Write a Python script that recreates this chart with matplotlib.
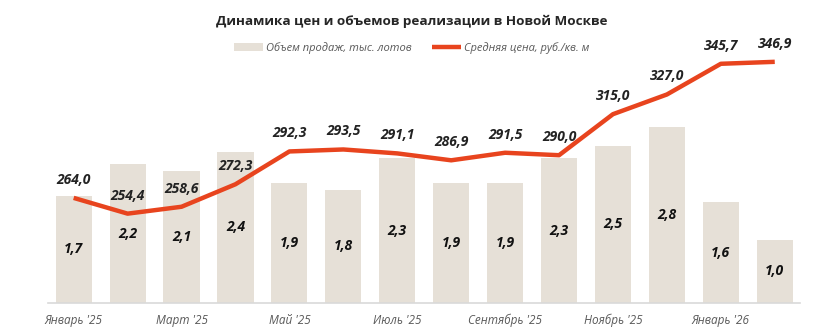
import matplotlib.pyplot as plt

plt.rcParams['font.family'] = ['Open Sans', 'DejaVu Sans']

months = ["Январь '25", "Февраль '25", "Март '25", "Апрель '25", "Май '25", "Июнь '25",
          "Июль '25", "Август '25", "Сентябрь '25", "Октябрь '25", "Ноябрь '25",
          "Декабрь '25", "Январь '26", "Февраль '26"]
volume = [1.7, 2.2, 2.1, 2.4, 1.9, 1.8, 2.3, 1.9, 1.9, 2.3, 2.5, 2.8, 1.6, 1.0]
price = [264.0, 254.4, 258.6, 272.3, 292.3, 293.5, 291.1, 286.9, 291.5, 290.0,
         315.0, 327.0, 345.7, 346.9]

bar_color = '#e6e0d7'
line_color = '#e8441e'

def fmt(v):
    return f'{v:.1f}'.replace('.', ',')

fig = plt.figure(figsize=(8.24, 3.30), dpi=100)
ax = fig.add_axes([0.058, 0.082, 0.913, 0.763])
ax2 = ax.twinx()

x = list(range(len(months)))
bars = ax.bar(x, volume, width=0.67, color=bar_color, label='Объем продаж, тыс. лотов', zorder=1)
ax.set_ylim(0, 4)
ax.set_xlim(-0.48, 13.47)
for xi, v in zip(x, volume):
    ax.text(xi, v / 2, fmt(v), ha='center', va='center', fontsize=10,
            fontweight='bold', fontstyle='italic', color='#111111')

line, = ax2.plot(x, price, color=line_color, lw=3.2, solid_capstyle='butt',
                 label='Средняя цена, руб./кв. м', zorder=3)
ax2.set_ylim(200, 353.4)
for xi, v in zip(x, price):
    ax2.annotate(fmt(v), (xi, v), xytext=(0, 8), textcoords='offset points',
                 ha='center', va='bottom', fontsize=10, fontweight='bold',
                 fontstyle='italic', color='#222222')

for a in (ax, ax2):
    for s in a.spines.values():
        s.set_visible(False)
    a.set_yticks([])
ax.spines['bottom'].set_visible(True)
ax.spines['bottom'].set_color('#d9d9d9')
ax.spines['bottom'].set_linewidth(1.2)

ax.set_xticks(x[::2])
ax.set_xticklabels(months[::2], fontsize=8.5, fontstyle='italic', color='#595959')
ax.tick_params(axis='x', length=0, pad=8)

fig.text(0.5, 0.935, 'Динамика цен и объемов реализации в Новой Москве',
         ha='center', va='center', fontsize=9.7, fontweight='bold', color='#262626')

fig.legend(handles=[bars, line], loc='center', bbox_to_anchor=(0.5, 0.855), ncol=2,
           frameon=False, prop={'size': 8, 'style': 'italic'}, labelcolor='#595959',
           handlelength=2.6, handletextpad=0.3, columnspacing=1.8)

fig.savefig('out.png', dpi=100)
